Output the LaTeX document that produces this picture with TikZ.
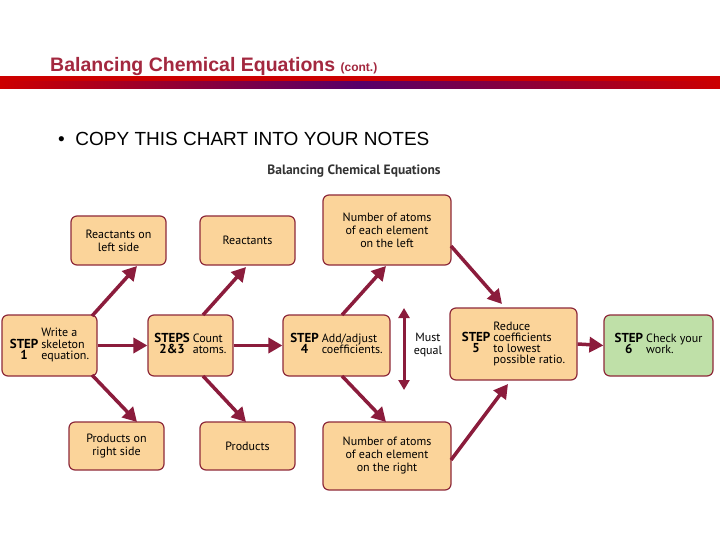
\documentclass[tikz,border=0pt]{standalone}
\usepackage{fontspec}
\setmainfont{Liberation Sans}
\newfontfamily\chart{PT Sans}
\usetikzlibrary{arrows.meta}
\definecolor{bx}{HTML}{FBD49A}
\definecolor{bd}{HTML}{8E2A3A}
\definecolor{ar}{HTML}{8B1C3C}
\definecolor{gr}{HTML}{BFE0A8}
\definecolor{tt}{HTML}{A3283F}
\newcommand\stpf{\chart\bfseries\fontsize{13}{13}\selectfont}
\begin{document}
\begin{tikzpicture}[x=1pt,y=-1pt,
 box/.style={draw=bd,line width=1.2pt,fill=bx,rounded corners=6pt,font=\chart\fontsize{12}{13}\selectfont,align=center,inner sep=0pt},
 arr/.style={draw=ar,line width=3.5pt,-{Triangle[length=14pt,width=15pt]}}]
\useasboundingbox (0,0) rectangle (720,540);
\fill[white] (0,0) rectangle (720,540);
\node[anchor=base west,text=tt,font=\bfseries\fontsize{19.5}{20}\selectfont,inner sep=0pt] (title) at (50,72) {Balancing Chemical Equations \fontsize{12}{12}\selectfont(cont.)};
\fill[red!80!black] (0,76) rectangle (720,89);
\shade[left color=red!80!black,right color=blue!55!red!75!black] (0,82) rectangle (360,89);
\shade[right color=red!80!black,left color=blue!55!red!75!black] (360,82) rectangle (720,89);
\node[anchor=base west,font=\fontsize{19}{20}\selectfont,inner sep=0pt] (bul) at (58,146) {\textbullet\ \ COPY THIS CHART INTO YOUR NOTES};
\node[font=\chart\bfseries\fontsize{13.5}{14}\selectfont,text=black!80] (ct) at (354,171) {Balancing Chemical Equations};
\node[box,minimum width=95pt,minimum height=49pt] (rl) at (118.5,240.5) {Reactants on\\left side};
\node[box,minimum width=95pt,minimum height=49pt] (r) at (247.5,240.5) {Reactants};
\node[box,minimum width=128pt,minimum height=70pt] (nl) at (387,230) {Number of atoms\\of each element\\on the left};
\node[box,minimum width=95pt,minimum height=61pt] (s1) at (49.5,345.5) {\begin{tabular}{@{}c@{\hspace{3pt}}l@{}}&Write a\\[-2pt]\stpf STEP&skeleton\\[-2pt]\stpf 1&equation.\end{tabular}};
\node[box,minimum width=85pt,minimum height=61pt] (s2) at (190.5,345.5) {\begin{tabular}{@{}c@{\hspace{3pt}}l@{}}\stpf STEPS&Count\\[-2pt]\stpf 2\&3&atoms.\end{tabular}};
\node[box,minimum width=107pt,minimum height=61pt] (s4) at (336.5,345.5) {\begin{tabular}{@{}c@{\hspace{3pt}}l@{}}\stpf STEP&Add/adjust\\[-2pt]\stpf 4&coefficients.\end{tabular}};
\node[box,minimum width=127pt,minimum height=72pt] (s5) at (513.5,344) {\begin{tabular}{@{}c@{\hspace{3pt}}l@{}}&Reduce\\[-2pt]\stpf STEP&coefficients\\[-2pt]\stpf 5&to lowest\\[-2pt]&possible ratio.\end{tabular}};
\node[box,fill=gr,minimum width=109pt,minimum height=61pt] (s6) at (658.5,345.5) {\begin{tabular}{@{}c@{\hspace{3pt}}l@{}}\stpf STEP&Check your\\[-2pt]\stpf 6&work.\end{tabular}};
\node[box,minimum width=95pt,minimum height=48pt] (pr) at (116.5,446) {Products on\\right side};
\node[box,minimum width=95pt,minimum height=48pt] (p) at (247.5,446) {Products};
\node[box,minimum width=128pt,minimum height=68pt] (nr) at (387,456) {Number of atoms\\of each element\\on the right};
\node[font=\chart\fontsize{12}{13}\selectfont,align=center] (me) at (428,345) {Must\\equal};
\coordinate (mt) at (404,308); \coordinate (mb) at (404,390);
\draw[draw=ar,line width=3pt,{Triangle[length=10pt,width=11pt]}-{Triangle[length=10pt,width=11pt]}] (mt) -- (mb);
\draw[arr] (92,316) -- (137,266);
\draw[arr] (92,375) -- (137,422);
\draw[arr] (s1.east) -- (s2.west);
\draw[arr] (203,315) -- (246,267);
\draw[arr] (203,376) -- (246,422);
\draw[arr] (s2.east) -- (s4.west);
\draw[arr] (342,315) -- (386,266);
\draw[arr] (342,376) -- (386,422);
\draw[arr] (451,246) -- (502,304);
\draw[arr] (451,460) -- (508,384);
\draw[arr] (s5.east) -- (s6.west);
\end{tikzpicture}
\end{document}
